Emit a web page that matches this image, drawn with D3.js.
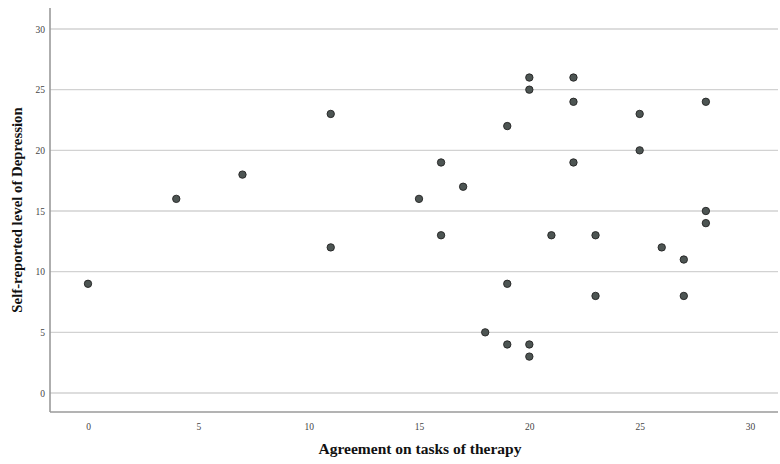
<!DOCTYPE html>
<html>
<head>
<meta charset="utf-8">
<script src="https://cdn.jsdelivr.net/npm/d3@7"></script>
<style>
  body { margin: 0; background: #fff; }
  text { font-family: "Liberation Serif", "Times New Roman", serif; }
</style>
</head>
<body>
<div id="chart"></div>
<script>
// agreement on tasks (x) vs self-reported depression (y)
const agreement = [0, 4, 7, 11, 11, 15, 16, 16, 17, 18, 19, 19, 19, 20, 20, 20, 20, 21, 22, 22, 22, 23, 23, 25, 25, 26, 27, 27, 28, 28, 28];
const depression = [9, 16, 18, 23, 12, 16, 19, 13, 17, 5, 22, 9, 4, 26, 25, 4, 3, 13, 26, 24, 19, 13, 8, 23, 20, 12, 11, 8, 24, 15, 14];
const xTicks = [0, 5, 10, 15, 20, 25, 30];
const yTicks = [0, 5, 10, 15, 20, 25, 30];

const width = 780, height = 464;
const plot = {left: 50, right: 778, top: 8, bottom: 412};

const svg = d3.select("#chart")
    .append("svg")
    .attr("width", width)
    .attr("height", height);

const x = d3.scaleLinear().domain([0, 30]).range([88, 750]);
const y = d3.scaleLinear().domain([0, 30]).range([393, 29]);

// gridlines
svg.append("g")
    .selectAll("line")
    .data(yTicks)
    .enter()
    .append("line")
    .attr("x1", plot.left)
    .attr("x2", plot.right)
    .attr("y1", d => y(d))
    .attr("y2", d => y(d))
    .attr("stroke", "#d2d2d2")
    .attr("stroke-width", 1.3);

// axes
svg.append("g")
    .attr("transform", `translate(0, ${plot.bottom})`)
    .call(d3.axisBottom(x).tickValues(xTicks).tickSize(0).tickPadding(11))
    .call(g => g.select(".domain").attr("d", `M${plot.left},0H${plot.right}`).attr("stroke", "#9a9a9a").attr("stroke-width", 1.6))
    .call(g => g.selectAll("text").attr("font-size", 9.5).attr("fill", "#444").style("font-family", "Liberation Serif"));

svg.append("g")
    .attr("transform", `translate(${plot.left}, 0)`)
    .call(d3.axisLeft(y).tickValues(yTicks).tickSize(0).tickPadding(5))
    .call(g => g.select(".domain").attr("d", `M0,${plot.top}V${plot.bottom}`).attr("stroke", "#9a9a9a").attr("stroke-width", 1.6))
    .call(g => g.selectAll("text").attr("font-size", 9.5).attr("fill", "#444").style("font-family", "Liberation Serif"));

// axis titles
svg.append("text")
    .attr("x", 420)
    .attr("y", 454)
    .attr("text-anchor", "middle")
    .attr("font-size", 15.5)
    .attr("font-weight", "bold")
    .attr("fill", "#111")
    .text("Agreement on tasks of therapy");

svg.append("text")
    .attr("transform", `translate(22, 210) rotate(-90)`)
    .attr("text-anchor", "middle")
    .attr("font-size", 14.8)
    .attr("font-weight", "bold")
    .attr("fill", "#111")
    .text("Self-reported level of Depression");

// points
svg.append("g")
    .selectAll("circle")
    .data(agreement)
    .enter()
    .append("circle")
    .attr("cx", d => x(d))
    .attr("cy", (d, i) => y(depression[i]))
    .attr("r", 3.7)
    .attr("fill", "#4d5553")
    .attr("stroke", "#222")
    .attr("stroke-width", 0.9);
</script>
</body>
</html>
